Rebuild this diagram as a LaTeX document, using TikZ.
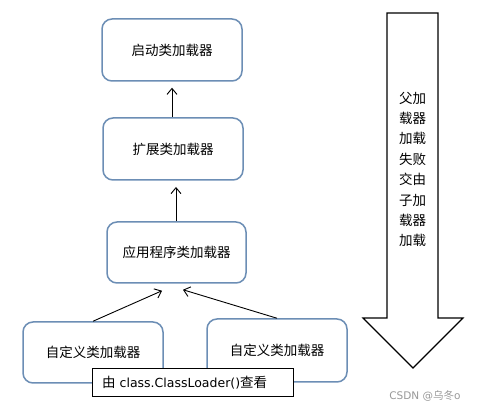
\documentclass[tikz,border=0pt]{standalone}
\usepackage{fontspec}
\setmainfont{DejaVu Sans}
\newfontfamily\cjk{Noto Sans CJK SC}
\usepackage{tikz}
\usetikzlibrary{arrows.meta, calc}
\definecolor{boxblue}{RGB}{108,142,181}

\begin{document}
\begin{tikzpicture}[
  x=1pt, y=-1pt,
  loader/.style={rectangle, rounded corners=10pt, draw=boxblue, line width=1.5pt,
    fill=white, minimum width=140pt, minimum height=62pt,
    font=\cjk\fontsize{13.5}{16}\selectfont},
  up/.style={-{Straight Barb[length=6pt,width=10pt]}, line width=0.9pt}]

  \useasboundingbox (0,0) rectangle (480,411);

  \node[loader] (boot) at (172,50) {启动类加载器};
  \node[loader] (ext) at (173,149) {扩展类加载器};
  \node[loader, minimum width=139pt, minimum height=61pt] (app) at (176.5,252.5) {应用程序类加载器};
  \node[loader, minimum height=61pt] (custA) at (93,352.5) {自定义类加载器};
  \node[loader, minimum height=63pt] (custB) at (277,350.5) {自定义类加载器};

  \node[rectangle, draw=black, line width=1pt, fill=white, text width=181pt, align=left,
    inner xsep=10pt, inner ysep=0pt, minimum height=28pt,
    font=\fontsize{12.5}{15}\selectfont] (note) at (192.5,383)
    {{\cjk\fontsize{13.5}{15}\selectfont 由} class.ClassLoader(){\cjk\fontsize{13.5}{15}\selectfont 查看}};

  \coordinate (tipL) at ($(app.south)+(-14.5,7)$);
  \coordinate (tipR) at ($(app.south)+(6.5,6)$);

  \draw[up, shorten >=6pt] (boot.south |- ext.north) -- (boot.south);
  \draw[up, shorten >=7pt] (app.north -| 176,0) -- (176,180);
  \draw[up] (custA.north) -- (tipL);
  \draw[up] (custB.north) -- (tipR);

  % big arrow on the right
  \draw[line width=1.1pt, fill=white] (387,13) -- (438,13) -- (438,318) -- (463,318)
    -- (413,368) -- (363,318) -- (387,318) -- cycle;
  \node[font=\cjk\fontsize{13.5}{20.4}\selectfont, align=center] (fail) at (412.7,169.5)
    {父加\\载器\\加载\\失败\\交由\\子加\\载器\\加载};

  \node[text=black!40, font=\fontsize{10.5}{12}\selectfont, anchor=east] (mark) at (464,396)
    {CSDN @{\cjk 乌冬}o};
\end{tikzpicture}
\end{document}
